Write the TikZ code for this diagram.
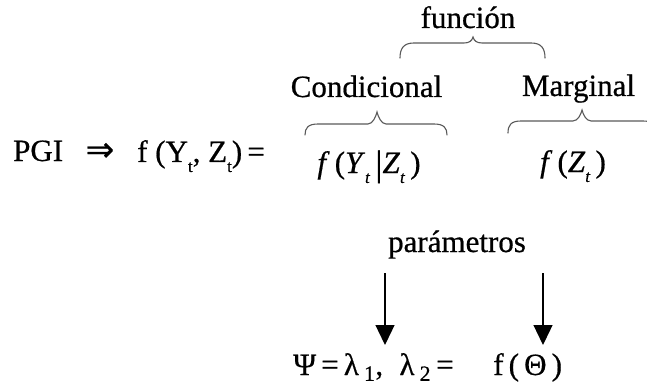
\documentclass[tikz,border=0pt]{standalone}
\usepackage{fontspec}
\setmainfont{Liberation Serif}[FakeBold=0.6]
\newfontfamily\arrowfont{DejaVu Sans}[FakeBold=0.8]
\usetikzlibrary{arrows.meta}
\newcommand{\lowsub}[1]{\raisebox{-0.32em}{\fontsize{17}{18}\selectfont #1}}
\begin{document}
\begin{tikzpicture}[x=1pt,y=-1pt,
  txt/.style={inner sep=0pt,font=\fontsize{31}{37}\selectfont},
  brc/.style={line width=1.1pt,draw=black!65,line cap=round},
  arr/.style={line width=1.3pt,-{Triangle[length=20pt,width=19pt]}}]
\useasboundingbox (0,0) rectangle (647,390);
\clip (0,0) rectangle (647,390);
% top row
\node[txt,anchor=base] (fun) at (468,28) {función};
\node[txt,anchor=base] (cond) at (366.5,97) {Condicional};
\node[txt,anchor=base] (marg) at (578.5,96) {Marginal};
% main equation
\node[txt,anchor=base west] (pgi) at (13,161) {PGI};
\node[txt,anchor=base] (impl) at (100,161) {\arrowfont\fontsize{34}{38}\selectfont ⇒};
\node[txt,anchor=base west] (eq) at (137,162) {f (Y\lowsub{t}, Z\lowsub{t})\,=};
\node[txt,anchor=base] (cnd) at (369,173) {\textit{f}\,(\textit{Y}\lowsub{\textit{t}}\,\raisebox{-0.08em}{\fontsize{36}{40}\selectfont|}\textit{Z}\lowsub{\textit{t}}\,)};
\node[txt,anchor=base] (mrg) at (573,172) {\textit{f}\,(\textit{Z}\lowsub{\textit{t}}\,)};
% braces
\draw[brc] (400,58) .. controls (400,48) and (404,43) .. (414,43) -- (464,43)
  .. controls (469,43) and (472,41) .. (473,37) .. controls (474,41) and (477,43) .. (482,43)
  -- (531,43) .. controls (541,43) and (545,48) .. (545,58);
\draw[brc] (305,135) .. controls (305,128) and (308,124) .. (318,124) -- (368,124)
  .. controls (373,124) and (376,116) .. (377,112) .. controls (378,116) and (381,124) .. (386,124)
  -- (434,124) .. controls (444,124) and (447,128) .. (447,135);
\draw[brc] (508,133) .. controls (508,125) and (511,121) .. (521,121) -- (573,121)
  .. controls (578,121) and (581,114) .. (582,110) .. controls (583,114) and (586,121) .. (591,121)
  -- (643,121) .. controls (653,121) and (656,125) .. (656,133);
% parameters
\node[txt,anchor=base] (par) at (457,252) {parámetros};
\coordinate (a1s) at (385,273);
\coordinate (a1e) at (385,345);
\coordinate (a2s) at (543,273);
\coordinate (a2e) at (543,345);
\draw[arr] (a1s) -- (a1e);
\draw[arr] (a2s) -- (a2e);
% bottom
\node[txt,anchor=base west] (psi) at (293,375) {Ψ\,=\,λ\,\textsubscript{1},\; λ\,\textsubscript{2}\,=};
\node[txt,anchor=base west] (fth) at (493,375) {f\,(\,Θ\,)};
\end{tikzpicture}
\end{document}
